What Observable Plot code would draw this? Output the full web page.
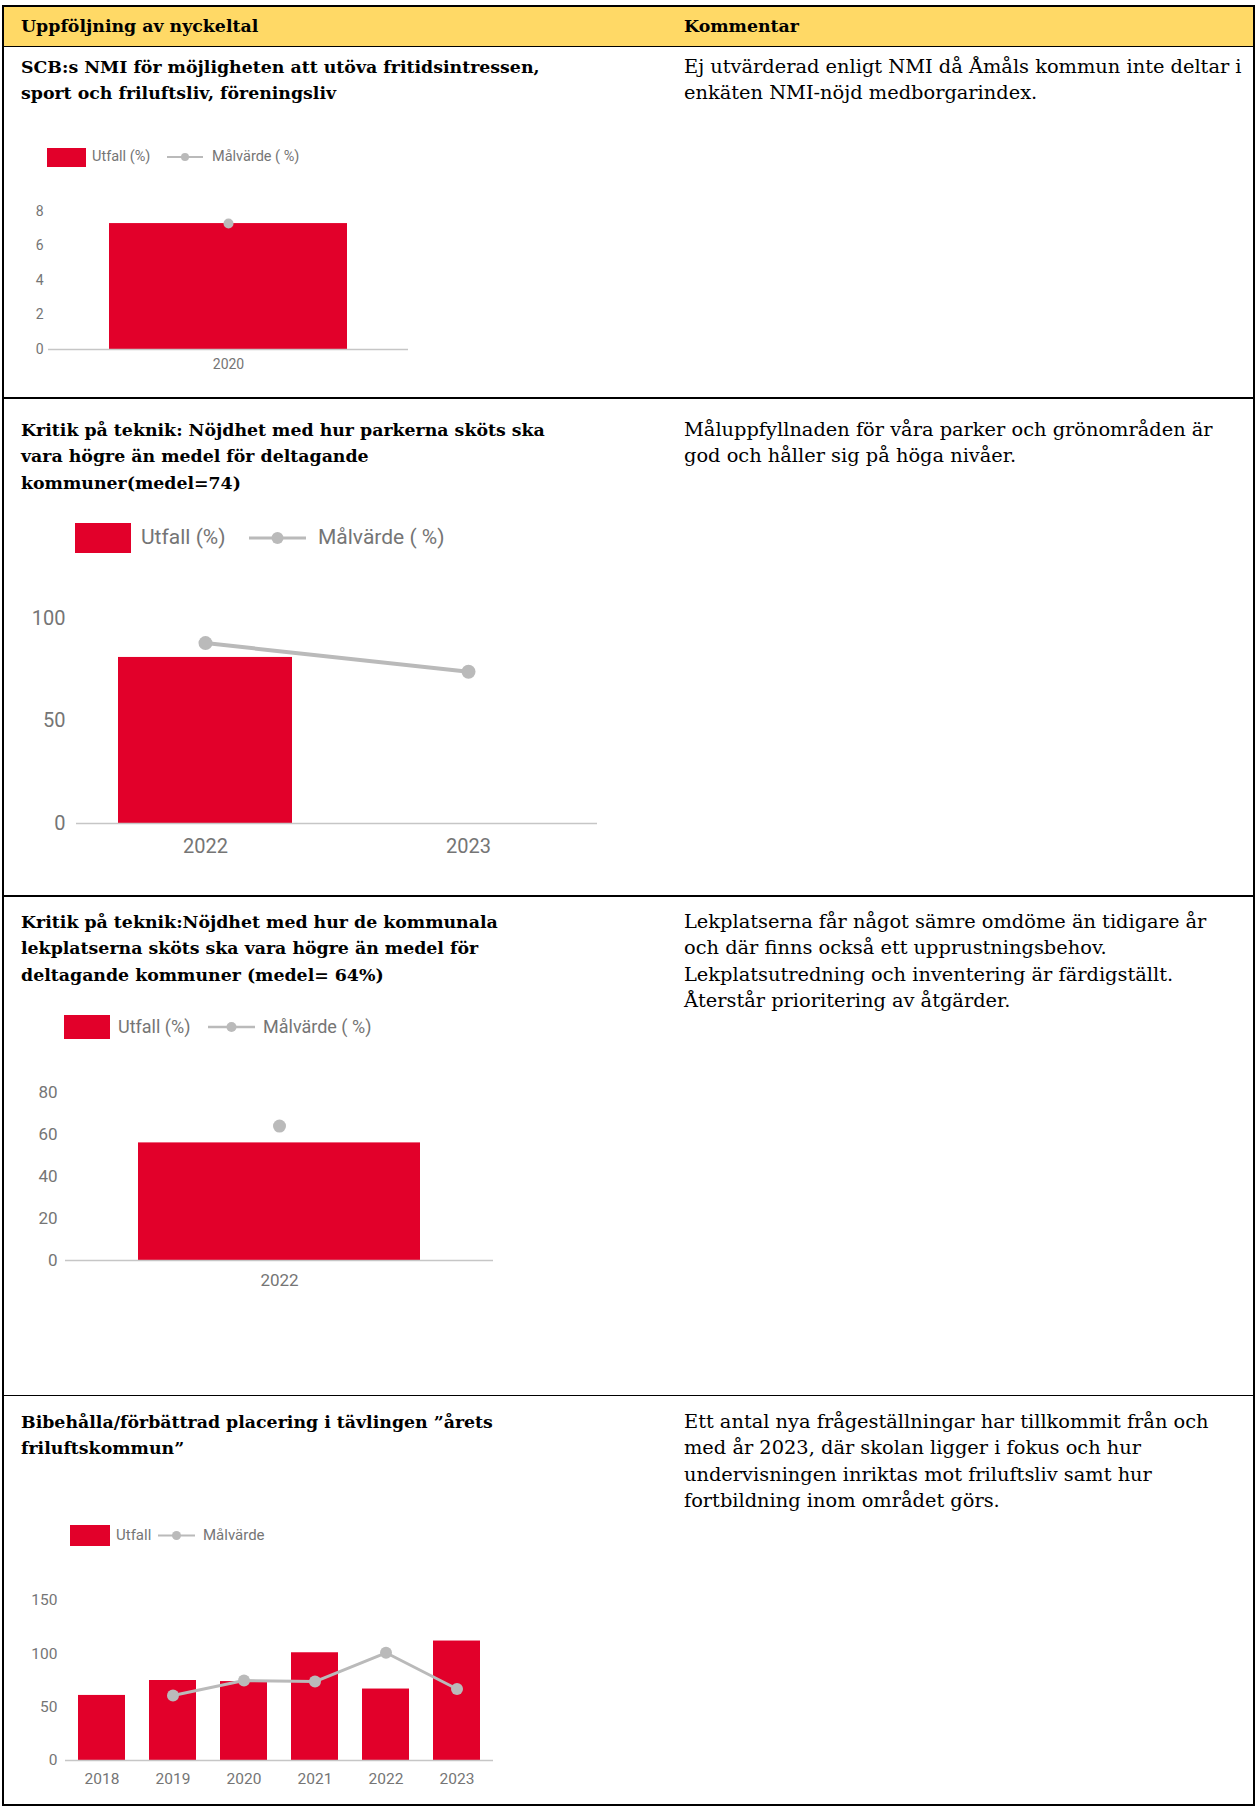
<!DOCTYPE html>
<html><head><meta charset="utf-8">
<script src="https://cdn.jsdelivr.net/npm/d3@7"></script>
<script src="https://cdn.jsdelivr.net/npm/@observablehq/plot@0.6"></script>
<style>
html,body{margin:0;padding:0;background:#fff;}
#page{position:relative;width:1257px;height:1809px;overflow:hidden;background:#fff;}
.ab{position:absolute;}
.txt{position:absolute;white-space:nowrap;font-family:"DejaVu Serif",serif;color:#000;line-height:26.5px;}
.leg{position:absolute;font-family:Roboto,sans-serif;color:#757575;white-space:nowrap;}
</style></head><body><div id="page"></div><script>
// ---------- data ----------
const headerLeft = "Uppföljning av nyckeltal";
const headerRight = "Kommentar";
const row1Left = ["SCB:s NMI för möjligheten att utöva fritidsintressen,", "sport och friluftsliv, föreningsliv"];
const row1Right = ["Ej utvärderad enligt NMI då Åmåls kommun inte deltar i", "enkäten NMI-nöjd medborgarindex."];
const row2Left = ["Kritik på teknik: Nöjdhet med hur parkerna sköts ska", "vara högre än medel för deltagande", "kommuner(medel=74)"];
const row2Right = ["Måluppfyllnaden för våra parker och grönområden är", "god och håller sig på höga nivåer."];
const row3Left = ["Kritik på teknik:Nöjdhet med hur de kommunala", "lekplatserna sköts ska vara högre än medel för", "deltagande kommuner (medel= 64%)"];
const row3Right = ["Lekplatserna får något sämre omdöme än tidigare år", "och där finns också ett upprustningsbehov.", "Lekplatsutredning och inventering är färdigställt.", "Återstår prioritering av åtgärder."];
const row4Left = ["Bibehålla/förbättrad placering i tävlingen ”årets", "friluftskommun”"];
const row4Right = ["Ett antal nya frågeställningar har tillkommit från och", "med år 2023, där skolan ligger i fokus och hur", "undervisningen inriktas mot friluftsliv samt hur", "fortbildning inom området görs."];

const legendPct = ["Utfall (%)", "Målvärde ( %)"];
const legendPlain = ["Utfall", "Målvärde"];

const c1Years = ["2020"];
const c1Utfall = [7.3];
const c1Mal = [7.3];
const c1Ticks = [0, 2, 4, 6, 8];

const c2Years = ["2022", "2023"];
const c2Utfall = [81, null];
const c2Mal = [88, 74];
const c2Ticks = [0, 50, 100];

const c3Years = ["2022"];
const c3Utfall = [56];
const c3Mal = [64];
const c3Ticks = [0, 20, 40, 60, 80];

const c4Years = ["2018", "2019", "2020", "2021", "2022", "2023"];
const c4Utfall = [61, 75, 74, 101, 67, 112];
const c4Mal = [null, 61, 75, 74, 101, 67];
const c4Ticks = [0, 50, 100, 150];

// ---------- styles ----------
const RED = "#e2002a";
const GREY = "#bababa";
const page = document.getElementById("page");

function box(x, y, w, h, bg) {
  const d = document.createElement("div");
  d.className = "ab";
  Object.assign(d.style, {left: x + "px", top: y + "px", width: w + "px", height: h + "px", background: bg});
  page.appendChild(d);
  return d;
}
function fitFont(text, weight, target) {
  const c = document.createElement("canvas").getContext("2d");
  c.font = `${weight} 100px "DejaVu Serif"`;
  return 100 * target / c.measureText(text).width;
}
const boldSize = fitFont(row1Left[0], "bold", 519);
const regSize = fitFont(row1Right[0], "normal", 558);

function textBlock(lines, x, cy, bold) {
  const d = document.createElement("div");
  d.className = "txt";
  d.style.left = x + "px";
  d.style.top = (cy - 13.25) + "px";
  d.style.fontWeight = bold ? "bold" : "normal";
  d.style.fontSize = (bold ? boldSize : regSize) + "px";
  d.innerHTML = lines.map(l => l.replace(/&/g, "&amp;").replace(/</g, "&lt;")).join("<br>");
  page.appendChild(d);
}

// ---------- table ----------
box(4, 7, 1249, 39, "#ffd966");
box(2, 5, 1253, 2, "#000");          // top
box(2, 5, 2, 1801, "#000");          // left
box(1253, 5, 2, 1801, "#000");       // right
box(2, 1804, 1253, 2, "#000");       // bottom
box(2, 46, 1253, 1, "#000");
box(2, 397, 1253, 2, "#000");
box(2, 895, 1253, 2, "#000");
box(2, 1395, 1253, 1, "#000");

textBlock([headerLeft], 21, 26, true);
textBlock([headerRight], 684, 26, true);
textBlock(row1Left, 21, 67, true);
textBlock(row1Right, 684, 67, false);
textBlock(row2Left, 21, 430, true);
textBlock(row2Right, 684, 430, false);
textBlock(row3Left, 21, 922, true);
textBlock(row3Right, 684, 922, false);
textBlock(row4Left, 21, 1422, true);
textBlock(row4Right, 684, 1422, false);

// ---------- legends ----------
function legend(labels, o) {
  const r = box(o.rx, o.cy - o.rh / 2, o.rw, o.rh, RED);
  const t1 = document.createElement("div");
  t1.className = "leg";
  t1.style.fontSize = o.fs + "px";
  t1.style.left = o.t1 + "px";
  t1.style.top = (o.cy - o.fs * 0.6) + "px";
  t1.style.lineHeight = (o.fs * 1.2) + "px";
  t1.textContent = labels[0];
  page.appendChild(t1);
  const t2 = t1.cloneNode();
  t2.style.left = o.t2 + "px";
  t2.textContent = labels[1];
  page.appendChild(t2);
  const w = o.s2 - o.s1, h = o.r * 2 + 2;
  const svg = d3.create("svg").attr("width", w).attr("height", h)
    .style("position", "absolute").style("left", o.s1 + "px").style("top", (o.cy - h / 2) + "px");
  svg.append("line").attr("x1", 0).attr("x2", w).attr("y1", h / 2).attr("y2", h / 2)
    .attr("stroke", GREY).attr("stroke-width", o.sw);
  svg.append("circle").attr("cx", w / 2).attr("cy", h / 2).attr("r", o.r).attr("fill", GREY);
  page.appendChild(svg.node());
}
legend(legendPct, {rx: 47, rw: 39, rh: 19, cy: 157, fs: 14.5, t1: 92, s1: 167, s2: 203, t2: 212, r: 4, sw: 2});
legend(legendPct, {rx: 75, rw: 56, rh: 30, cy: 538, fs: 21, t1: 141, s1: 249, s2: 306, t2: 318, r: 6, sw: 3});
legend(legendPct, {rx: 64, rw: 46, rh: 24, cy: 1027, fs: 18, t1: 118, s1: 208, s2: 255, t2: 263, r: 5, sw: 2.5});
legend(legendPlain, {rx: 70, rw: 40, rh: 21, cy: 1535, fs: 15, t1: 116, s1: 158, s2: 195, t2: 203, r: 4.5, sw: 2});

// ---------- charts ----------
function chart(years, utfall, mal, ticks, o) {
  const data = years.map((y, i) => ({year: y, utfall: utfall[i], mal: mal[i]}));
  const svg = Plot.plot({
    width: o.width, height: o.height,
    marginTop: o.mt, marginBottom: o.mb, marginLeft: o.ml, marginRight: o.mr,
    style: {fontFamily: "Roboto, sans-serif", fontSize: o.fs + "px", color: "#757575", background: "transparent", overflow: "visible"},
    x: {type: "band", domain: years, paddingInner: 0.34, paddingOuter: 0.16, label: null, tickSize: 0, tickPadding: o.xpad},
    y: {domain: [0, ticks[ticks.length - 1]], ticks: ticks, label: null, tickSize: 0, tickPadding: o.ypad},
    marks: [
      Plot.barY(data.filter(d => d.utfall != null), {x: "year", y: "utfall", fill: RED}),
      Plot.ruleY([0], {stroke: "#c6c6c6", strokeWidth: 1.5}),
      Plot.lineY(data, {x: "year", y: "mal", stroke: GREY, strokeWidth: o.sw}),
      Plot.dot(data.filter(d => d.mal != null), {x: "year", y: "mal", fill: GREY, r: o.r})
    ]
  });
  svg.style.position = "absolute";
  svg.style.left = "0px";
  svg.style.top = o.top + "px";
  page.appendChild(svg);
}
chart(c1Years, c1Utfall, c1Mal, c1Ticks, {top: 190, width: 440, height: 190, mt: 21, mb: 31, ml: 48, mr: 32, fs: 14, ypad: 5, xpad: 10, r: 5, sw: 2.5});
chart(c2Years, c2Utfall, c2Mal, c2Ticks, {top: 585, width: 640, height: 280, mt: 33, mb: 42, ml: 76, mr: 43, fs: 20, ypad: 11, xpad: 15, r: 7, sw: 4});
chart(c3Years, c3Utfall, c3Mal, c3Ticks, {top: 1060, width: 540, height: 245, mt: 32, mb: 45, ml: 65, mr: 47, fs: 17, ypad: 8, xpad: 13, r: 6.5, sw: 3});
chart(c4Years, c4Utfall, c4Mal, c4Ticks, {top: 1575, width: 520, height: 225, mt: 25, mb: 40, ml: 65, mr: 27, fs: 15.5, ypad: 8, xpad: 12, r: 6, sw: 3});
</script></body></html>
